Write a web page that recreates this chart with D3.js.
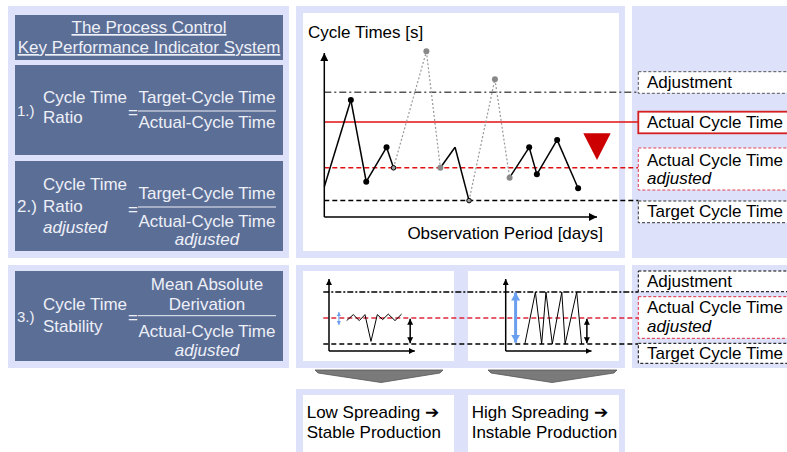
<!DOCTYPE html>
<html><head><meta charset="utf-8">
<script src="https://cdn.jsdelivr.net/npm/d3@7/dist/d3.min.js"></script>
<style>
html,body{margin:0;padding:0;background:#fff;}
svg text{font-family:"Liberation Sans",Arial,sans-serif;}
</style></head>
<body><svg id="c" width="787" height="452"></svg>
<script>
// ---------- data ----------
const days = [0, 3.8, 6.0, 8.9, 9.9, 14.6, 16.6, 18.7, 20.7, 24.4, 26.5, 29.3, 30.4, 33.3, 36.3];
const cycleTimes = [18.5, 71.3, 21.5, 42.5, 30, 101, 30, 42.5, 10, 84, 24, 42.5, 26, 47, 17.5];
const pointKind = ["none","black","black","black","open","gray","gray","none","open","gray","gray","black","black","black","black"];
const segmentKind = ["solid","solid","solid","solid","dotted","dotted","solid","solid","dotted","dotted","solid","solid","solid","solid"];
const refNames = ["Adjustment", "Actual Cycle Time", "Actual Cycle Time", "Target Cycle Time"];
const refSub = ["", "", "adjusted", ""];
const refValues = [76, 58, 30, 10];
const miniRefNames = ["Adjustment", "Actual Cycle Time", "Target Cycle Time"];
const miniRefValues = [20, 10, 0];
const lowX = [2.68, 3.68, 4.59, 5.45, 6.36, 7.32, 8.14, 8.98, 10, 11.0];
const lowY = [9, 11.3, 9, 11.3, 1, 11.3, 9.4, 11.5, 9, 11.5];
const highX = [2.9, 4.5, 5.45, 6.1, 7.06, 8.5, 9.0, 10.76, 11.5];
const highY = [0, 20, 0, 20, 0, 20, 0, 20, 0];
const titleLines = ["The Process Control", "Key Performance Indicator System"];
const outcomeLines = [["Low Spreading \u2794", "Stable Production"], ["High Spreading \u2794", "Instable Production"]];

// ---------- setup ----------
const svg = d3.select("#c");
const LAV = "#dde1f9", DARK = "#5b6e96", TXT = "#eef0f8";
const defs = svg.append("defs");
function mk(id, color, w, h) {
  const m = defs.append("marker").attr("id", id).attr("viewBox", "0 0 10 10")
    .attr("refX", 10).attr("refY", 5).attr("markerWidth", w).attr("markerHeight", h)
    .attr("markerUnits", "userSpaceOnUse").attr("orient", "auto-start-reverse")
    .attr("preserveAspectRatio","none");
  m.append("path").attr("d", "M0,0L10,5L0,10Z").attr("fill", color);
}
mk("ah", "#000", 8, 8); mk("ahs", "#000", 6, 6); mk("ahb", "#6a9ff0", 4, 4); mk("ahbb", "#6a9ff0", 8, 9);

// background panels
const rects = [
  [8,6,281,252,LAV],[296,6,329,252,LAV],[632,6,160,252,LAV],
  [8,265,281,103,LAV],[296,265,329,103,LAV],[632,265,160,103,LAV],
  [296,389,329,70,LAV],
  [303,13,316,238,"#fff"],[303,271,151,90,"#fff"],[468,271,151,90,"#fff"],
  [303,395,151,60,"#fff"],[468,395,151,60,"#fff"],
  [15,15,268,45,DARK],[15,65,268,90,DARK],[15,161,268,90,DARK],[15,271,268,90,DARK]
];
svg.selectAll("rect.bg").data(rects).join("rect").attr("class","bg")
  .attr("x",d=>d[0]).attr("y",d=>d[1]).attr("width",d=>d[2]).attr("height",d=>d[3]).attr("fill",d=>d[4]);

// ---------- left text boxes ----------
const T = (x,y,s,opt={}) => {
  const t = svg.append("text").attr("x",x).attr("y",y).text(s)
    .attr("font-size", opt.size||17).attr("fill", opt.fill||TXT);
  if (opt.anchor) t.attr("text-anchor", opt.anchor);
  if (opt.italic) t.attr("font-style","italic");
  if (opt.underline) t.attr("text-decoration","underline");
  return t;
};
titleLines.forEach((s,i)=>T(149, 33+i*20, s, {anchor:"middle", underline:true}));
// box 1
T(17,116,"1.)",{size:15}); T(43,103,"Cycle Time"); T(43,123,"Ratio");
T(128,118,"=",{size:17});
T(207,103,"Target-Cycle Time",{anchor:"middle"});
svg.append("line").attr("x1",138).attr("x2",276).attr("y1",111).attr("y2",111).attr("stroke",TXT).attr("stroke-width",1);
T(207,128,"Actual-Cycle Time",{anchor:"middle"});
// box 2
T(43,190,"Cycle Time"); T(17,212,"2.)"); T(43,212,"Ratio"); T(43,233,"adjusted",{italic:true});
T(128,215,"=");
T(207,199,"Target-Cycle Time",{anchor:"middle"});
svg.append("line").attr("x1",138).attr("x2",276).attr("y1",207).attr("y2",207).attr("stroke",TXT);
T(207,227,"Actual-Cycle Time",{anchor:"middle"});
T(207,245,"adjusted",{anchor:"middle",italic:true});
// box 3
T(17,322,"3.)",{size:15}); T(43,310,"Cycle Time"); T(43,332,"Stability");
T(128,323,"=");
T(207,290,"Mean Absolute",{anchor:"middle"});
T(207,310,"Derivation",{anchor:"middle"});
svg.append("line").attr("x1",138).attr("x2",276).attr("y1",315.7).attr("y2",315.7).attr("stroke",TXT);
T(207,337,"Actual-Cycle Time",{anchor:"middle"});
T(207,356,"adjusted",{anchor:"middle",italic:true});

// ---------- main chart ----------
const x = d3.scaleLinear().domain([0,39]).range([324.3,597]);
const y = d3.scaleLinear().domain([0,100]).range([217,53]);
const legendX = 638.3;
const refStyles = [
  {stroke:"#555", dash:"7,3,2,3", w:1.5},
  {stroke:"#e01010", dash:null, w:1.5},
  {stroke:"#e01010", dash:"5,3", w:1.5},
  {stroke:"#000", dash:"5,3", w:1.5}
];
refValues.forEach((v,i)=>{
  svg.append("line").attr("x1",x(0)).attr("x2",legendX).attr("y1",y(v)).attr("y2",y(v))
    .attr("stroke",refStyles[i].stroke).attr("stroke-width",refStyles[i].w)
    .attr("stroke-dasharray",refStyles[i].dash);
});
// axes
svg.append("line").attr("x1",x(0)).attr("x2",x(0)).attr("y1",y(0)).attr("y2",y(100)).attr("stroke","#000").attr("stroke-width",1.5).attr("marker-end","url(#ah)");
svg.append("line").attr("x1",x(0)).attr("x2",x(39)).attr("y1",y(0)).attr("y2",y(0)).attr("stroke","#000").attr("stroke-width",1.5).attr("marker-end","url(#ah)");
T(308,38,"Cycle Times [s]",{fill:"#000"});
T(603,239,"Observation Period [days]",{fill:"#000",anchor:"end"});
// segments
const segs = segmentKind.map((k,i)=>({k, x1:days[i], y1:cycleTimes[i], x2:days[i+1], y2:cycleTimes[i+1]}));
svg.selectAll("line.seg").data(segs).join("line").attr("class","seg")
  .attr("x1",d=>x(d.x1)).attr("y1",d=>y(d.y1)).attr("x2",d=>x(d.x2)).attr("y2",d=>y(d.y2))
  .attr("stroke",d=>d.k==="solid"?"#000":"#999")
  .attr("stroke-width",d=>d.k==="solid"?1.5:1.2)
  .attr("stroke-dasharray",d=>d.k==="solid"?null:"2,2");
const pts = days.map((d,i)=>({d, v:cycleTimes[i], k:pointKind[i]})).filter(p=>p.k!=="none");
svg.selectAll("circle.pt").data(pts).join("circle").attr("class","pt")
  .attr("cx",p=>x(p.d)).attr("cy",p=>y(p.v))
  .attr("r",p=>p.k==="open"?2.3:3)
  .attr("fill",p=>p.k==="black"?"#000":(p.k==="gray"?"#888":"#999"))
  .attr("stroke",p=>p.k==="open"?"#000":"none").attr("stroke-width",1);
// red down triangle
svg.append("path").attr("d","M583.3,133.3L610.7,133.3L597,160Z").attr("fill","#cc0000");

// main legend boxes
const boxes = [
  {y:71.7,h:21.6,stroke:"#555",dash:"3,2",w:1},
  {y:111.7,h:21.6,stroke:"#d42020",dash:null,w:1.8},
  {y:148,h:42,stroke:"#e04050",dash:"3,2",w:1},
  {y:201,h:21.7,stroke:"#333",dash:"3,2",w:1}
];
const base = [88.3,128.3,165.7,217.3];
boxes.forEach((b,i)=>{
  svg.append("rect").attr("x",legendX).attr("y",b.y).attr("width",170).attr("height",b.h)
    .attr("fill","#fff").attr("stroke",b.stroke).attr("stroke-width",b.w).attr("stroke-dasharray",b.dash);
  T(647,base[i],refNames[i],{fill:"#000"});
  if (refSub[i]) T(647,base[i]+18,refSub[i],{fill:"#000",italic:true});
});

// ---------- mini charts ----------
const my = d3.scaleLinear().domain([0,20]).range([344,292]);
const miniStyles = [
  {stroke:"#000", dash:"6,2,2,2"},
  {stroke:"#e0283c", dash:"5,3"},
  {stroke:"#000", dash:"5,3"}
];
miniRefValues.forEach((v,i)=>{
  svg.append("line").attr("x1",323.3).attr("x2",legendX).attr("y1",my(v)).attr("y2",my(v))
    .attr("stroke",miniStyles[i].stroke).attr("stroke-width",1.5).attr("stroke-dasharray",miniStyles[i].dash);
});
function mini(ax, xs, ys, blueFrom, blueTo, thick) {
  const mx = d3.scaleLinear().domain([0,13]).range([ax, ax+85.8]);
  svg.append("line").attr("x1",mx(0)).attr("x2",mx(0)).attr("y1",my(-2.7)).attr("y2",my(25)).attr("stroke","#000").attr("stroke-width",1.5).attr("marker-end","url(#ahs)");
  svg.append("line").attr("x1",mx(0)).attr("x2",mx(13)).attr("y1",my(-2.7)).attr("y2",my(-2.7)).attr("stroke","#000").attr("stroke-width",1.5).attr("marker-end","url(#ahs)");
  svg.append("path").attr("d",d3.line().x((d,i)=>mx(xs[i])).y(d=>my(d))(ys)).attr("fill","none").attr("stroke","#000").attr("stroke-width",1);
  svg.append("line").attr("x1",mx(12.3)).attr("x2",mx(12.3)).attr("y1",my(0.3)).attr("y2",my(9.7))
    .attr("stroke","#000").attr("stroke-width",1.5).attr("marker-start","url(#ahs)").attr("marker-end","url(#ahs)");
  svg.append("line").attr("x1",mx(1.5)).attr("x2",mx(1.5)).attr("y1",my(blueFrom)).attr("y2",my(blueTo))
    .attr("stroke","#6a9ff0").attr("stroke-width",thick?3:1)
    .attr("marker-start",thick?"url(#ahbb)":"url(#ahb)").attr("marker-end",thick?"url(#ahbb)":"url(#ahb)");
}
mini(329, lowX, lowY, 7.3, 12.3, false);
mini(505.7, highX, highY, 0.5, 19.8, true);

// mini legend
const mboxes = [
  {y:271,h:20.7,stroke:"#000",b:287.3},
  {y:296.7,h:41.6,stroke:"#e0283c",b:313.3},
  {y:343.3,h:20,stroke:"#000",b:358.8}
];
mboxes.forEach((b,i)=>{
  svg.append("rect").attr("x",legendX).attr("y",b.y).attr("width",170).attr("height",b.h)
    .attr("fill","#fff").attr("stroke",b.stroke).attr("stroke-width",1).attr("stroke-dasharray","3,2");
  T(647,b.b,miniRefNames[i],{fill:"#000"});
  if (i===1) T(647,b.b+19,"adjusted",{fill:"#000",italic:true});
});

// gray down arrows
[[315,443,381],[488,617,552]].forEach(a=>{
  svg.append("path").attr("d",`M${a[0]},370L${a[1]},370L${a[1]-3},373L${a[2]},382.5L${a[0]+3},373Z`)
    .attr("fill","#7a7a7a").attr("stroke","#555").attr("stroke-width",0.8);
});

// outcome text
outcomeLines.forEach((ls,i)=>{
  ls.forEach((s,j)=>T(i?471.7:306.7, 418.3+j*19.6, s, {fill:"#000"}));
});
</script></body></html>
